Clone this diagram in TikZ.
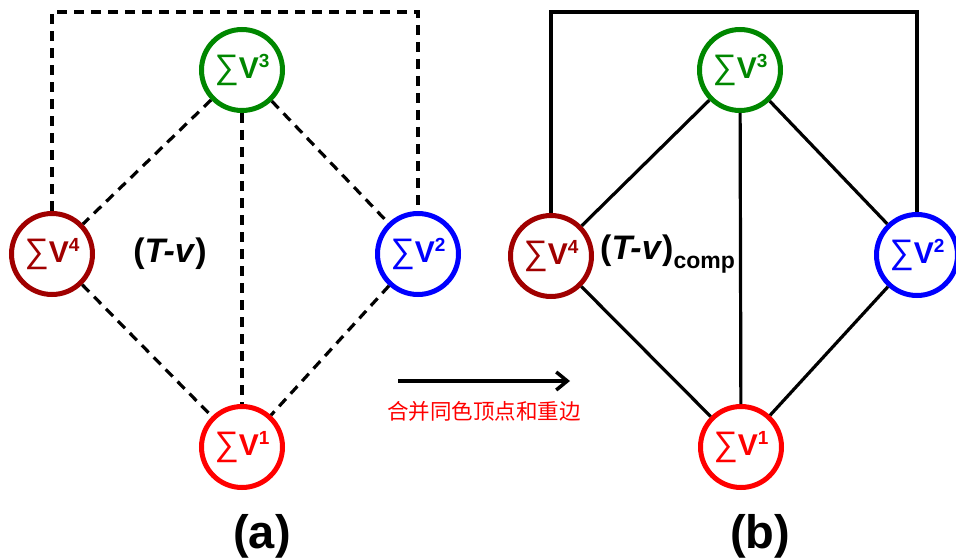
\documentclass[tikz,border=0pt]{standalone}
\usepackage{fontspec}
\usetikzlibrary{arrows.meta}
\setmainfont{Liberation Sans}
\newfontfamily\cjk{Noto Sans CJK SC}
\definecolor{cdred}{RGB}{160,0,0}
\definecolor{cgreen}{RGB}{0,135,0}
\definecolor{cblue}{RGB}{0,0,255}
\definecolor{cred}{RGB}{255,0,0}
\newcommand\vlab[1]{{\fontsize{30}{30}\selectfont{\fontsize{34}{34}\selectfont ∑}\textbf{V}\raisebox{0.38em}{\fontsize{19}{19}\selectfont\textbf{#1}}}}
\begin{document}
\begin{tikzpicture}[x=1pt,y=-1pt,
  vert/.style={circle, draw=#1, text=#1, line width=5pt, minimum size=81pt, inner sep=0pt},
  dedge/.style={line width=3.2pt, dash pattern=on 10pt off 7pt},
  sedge/.style={line width=3.2pt},
  lbl/.style={font=\fontsize{34}{34}\selectfont\bfseries}]
\useasboundingbox (0,0) rectangle (956,559);
% (a)
\node[vert=cgreen] (a3) at (242,70) {\vlab{3}};
\node[vert=cdred]  (a4) at (52,254) {\vlab{4}};
\node[vert=cblue]  (a2) at (418,254) {\vlab{2}};
\node[vert=cred]   (a1) at (242,447) {\vlab{1}};
\draw[dedge] (a3) -- (a4);
\draw[dedge] (a3) -- (a2);
\draw[dedge] (a3) -- (a1);
\draw[dedge] (a4) -- (a1);
\draw[dedge] (a2) -- (a1);
\draw[dedge] (a4.north) -- (a4.north |- 0,12) -- (a2.north |- 0,12) -- (a2.north);
\node[lbl] (ta) at (170,254) {(\textit{T-v})};
\node[font=\fontsize{47}{47}\selectfont\bfseries] (la) at (262,536) {(a)};
% (b)
\node[vert=cgreen] (b3) at (740,70) {\vlab{3}};
\node[vert=cdred]  (b4) at (551,256) {\vlab{4}};
\node[vert=cblue]  (b2) at (917,255) {\vlab{2}};
\node[vert=cred]   (b1) at (741,447) {\vlab{1}};
\draw[sedge] (b3) -- (b4);
\draw[sedge] (b3) -- (b2);
\draw[sedge] (b3) -- (b1);
\draw[sedge] (b4) -- (b1);
\draw[sedge] (b2) -- (b1);
\draw[sedge] (b4.north) -- (b4.north |- 0,12) -- (b2.north |- 0,12) -- (b2.north);
\node[lbl, anchor=west, inner sep=0pt] (tb) at (600,254) {(\textit{T-v})\raisebox{-0.25em}{\fontsize{23}{23}\selectfont comp}};
\node[font=\fontsize{47}{47}\selectfont\bfseries] (lb) at (760,536) {(b)};
% arrow
\coordinate (s) at (398,381);
\coordinate (e) at (570,381);
\draw[line width=3.5pt, -{Straight Barb[length=11pt,width=18pt,line width=3.5pt]}] (s) -- (e);
\node[text=cred, font=\cjk\fontsize{21.5}{21.5}\selectfont] (cap) at (484,411) {合并同色顶点和重边};
\end{tikzpicture}
\end{document}
